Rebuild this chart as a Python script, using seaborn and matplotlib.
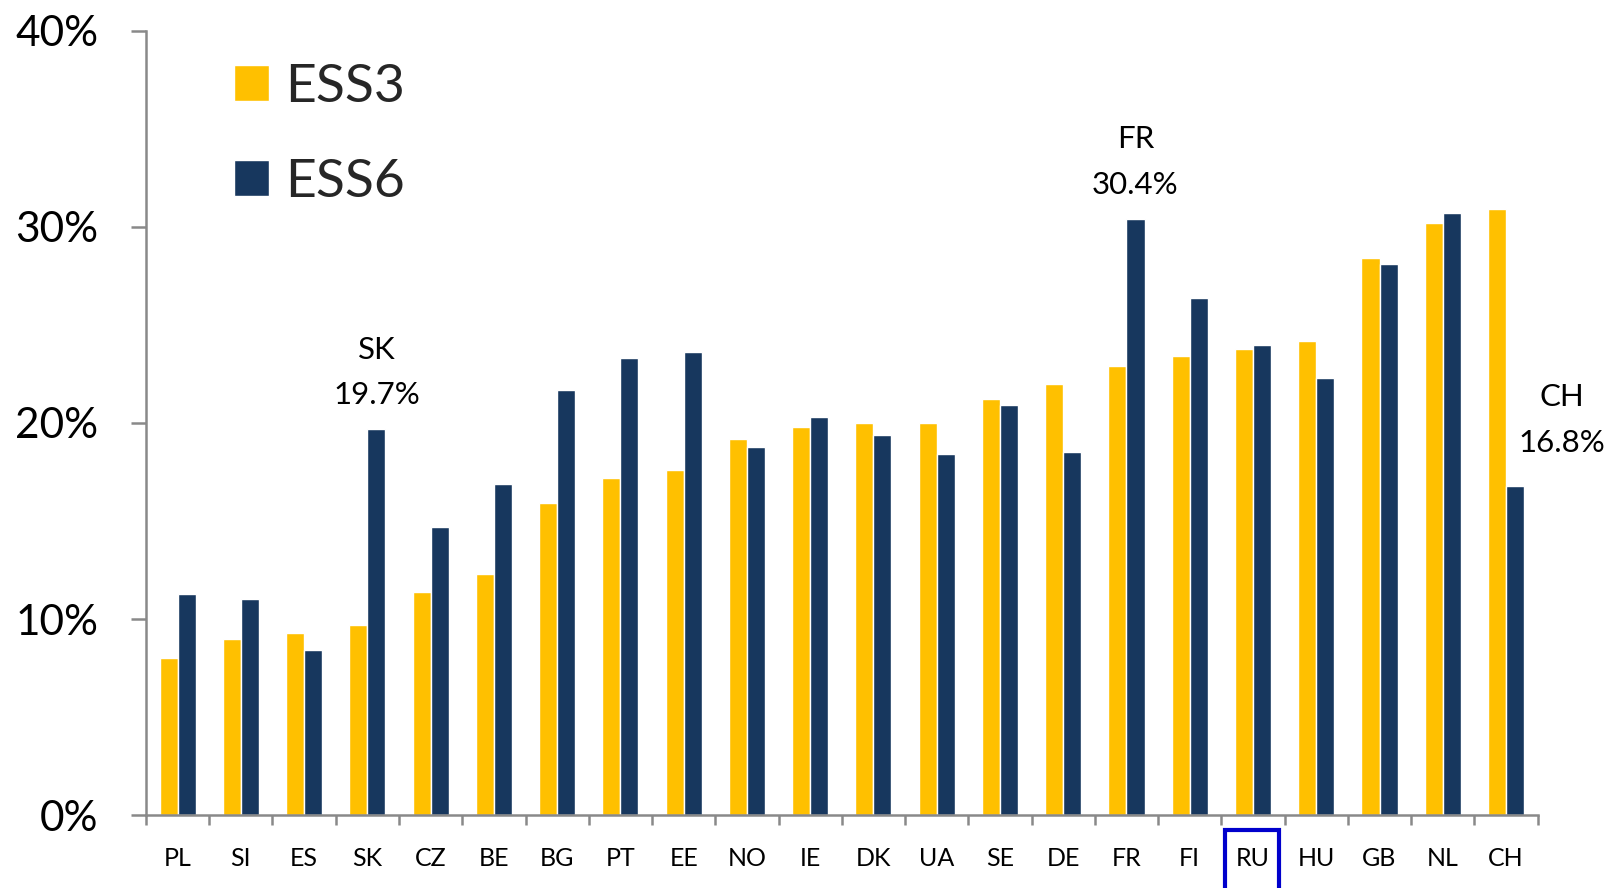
import numpy as np
import pandas as pd
import matplotlib
matplotlib.use("Agg")
import matplotlib.pyplot as plt
from matplotlib.patches import Rectangle
from matplotlib.ticker import FuncFormatter, FixedLocator
import seaborn as sns

# ---- data ----
countries = ['PL', 'SI', 'ES', 'SK', 'CZ', 'BE', 'BG', 'PT', 'EE', 'NO', 'IE',
             'DK', 'UA', 'SE', 'DE', 'FR', 'FI', 'RU', 'HU', 'GB', 'NL', 'CH']
ess3 = [8.0, 9.0, 9.3, 9.7, 11.4, 12.3, 15.9, 17.2, 17.6, 19.2, 19.8,
        20.0, 20.0, 21.2, 22.0, 22.9, 23.4, 23.8, 24.2, 28.4, 30.2, 30.9]
ess6 = [11.3, 11.0, 8.4, 19.7, 14.7, 16.9, 21.7, 23.3, 23.6, 18.8, 20.3,
        19.4, 18.4, 20.9, 18.5, 30.4, 26.4, 24.0, 22.3, 28.1, 30.7, 16.8]
waves = ['ESS3', 'ESS6']
callouts = ['SK', 'FR', 'CH']
highlight = 'RU'
y_ticks = [0, 10, 20, 30, 40]

df = pd.DataFrame({
    'country': countries * 2,
    'value': ess3 + ess6,
    'wave': [waves[0]] * len(countries) + [waves[1]] * len(countries),
})

# ---- style ----
sns.set_style("white")
plt.rcParams['font.family'] = ['Lato', 'DejaVu Sans']
YELLOW = '#FFC000'
NAVY = '#17375E'
GREY = '#898989'

fig = plt.figure(figsize=(16.22, 8.88), dpi=100)
ax = fig.add_axes([0.0900, 0.0822, 0.9480 - 0.0900, 0.9651 - 0.0822])

sns.barplot(data=df, x='country', y='value', hue='wave', order=countries,
            hue_order=waves, palette=[YELLOW, NAVY], saturation=1,
            width=0.57, ax=ax, legend=True)

ax.set_xlim(-0.5, len(countries) - 0.5)
ax.set_ylim(0, 40)
ax.set_xlabel('')
ax.set_ylabel('')

# spines
for s in ['top', 'right']:
    ax.spines[s].set_visible(False)
for s in ['left', 'bottom']:
    ax.spines[s].set_color(GREY)
    ax.spines[s].set_linewidth(1.8)

# y axis
ax.yaxis.set_major_locator(FixedLocator(y_ticks))
ax.yaxis.set_major_formatter(FuncFormatter(lambda v, p: f'{v:.0f}%'))
ax.tick_params(axis='y', which='major', direction='out', length=10.8,
               width=1.8, color=GREY, pad=23.5, labelsize=30.5, labelcolor='black')
ax.tick_params(axis='y', left=True)

# x axis: labels at centers, tick marks at boundaries
ax.set_xticks(np.arange(len(countries)))
ax.set_xticklabels(countries)
ax.set_xticks(np.arange(len(countries) + 1) - 0.5, minor=True)
ax.tick_params(axis='x', which='major', length=0, pad=23, labelsize=18,
               labelcolor='black')
ax.tick_params(axis='x', which='minor', direction='out', length=7.2,
               width=1.8, color=GREY, bottom=True)

# legend
handles, labels = ax.get_legend_handles_labels()
ax.legend(handles, labels, loc='upper left',
          bbox_to_anchor=(234 / 1622, 1 - 63.5 / 888),
          bbox_transform=fig.transFigure, frameon=False, fontsize=38.5,
          handlelength=0.654, handleheight=0.654, handletextpad=0.30,
          labelspacing=0.90, borderpad=0, borderaxespad=0)

# callouts on ESS6 bars
bar_off = 0.57 / 4
offsets = {'SK': (0, 18, 0, 50), 'FR': (0, 18, 0, 51), 'CH': (34, 24.5, 34, 57.5)}
for c in callouts:
    i = countries.index(c)
    v = ess6[i]
    dx1, dy1, dx2, dy2 = offsets[c]
    ax.annotate(f'{v:.1f}%', xy=(i + bar_off, v), xytext=(dx1, dy1),
                textcoords='offset points', ha='center', va='baseline',
                fontsize=22.5, color='black', annotation_clip=False)
    ax.annotate(c, xy=(i + bar_off, v), xytext=(dx2, dy2),
                textcoords='offset points', ha='center', va='baseline',
                fontsize=22.5, color='black', annotation_clip=False)

# highlight box around RU label
ri = countries.index(highlight)
ax.add_patch(Rectangle((ri - 0.44, -6.0), 0.85, 6.0 - 0.75, fill=False,
                       edgecolor='#0000CC', linewidth=3, clip_on=False,
                       zorder=5))

fig.savefig('out.png', dpi=100)
